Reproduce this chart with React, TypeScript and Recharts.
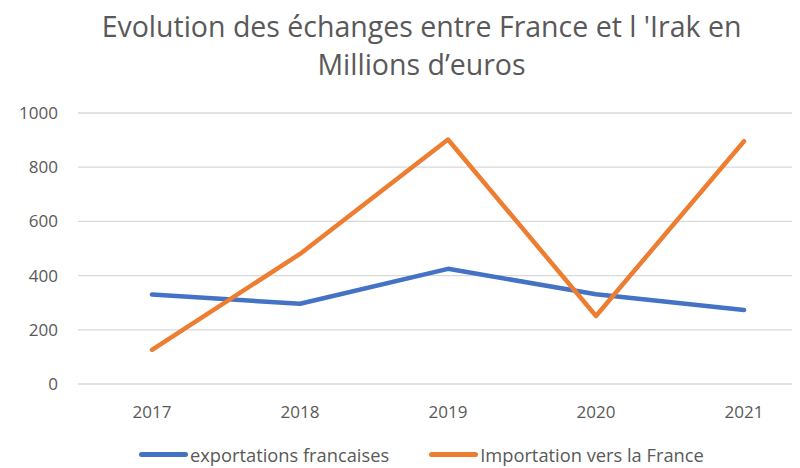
import React from "react";
import { LineChart, Line, XAxis, YAxis, CartesianGrid, Legend } from "recharts";

const years = ["2017", "2018", "2019", "2020", "2021"];
const exportations = [330, 296, 425, 331, 273];
const importations = [126, 480, 902, 251, 896];
const yTicks = [0, 200, 400, 600, 800, 1000];
const seriesNames = ["exportations francaises", "Importation vers la France"];
const seriesColors = ["#4472C4", "#ED7D31"];
const titleLines = ["Evolution des échanges entre France et l 'Irak en", "Millions d’euros"];

const data = years.map((y, i) => ({ year: y, exp: exportations[i], imp: importations[i] }));

const FONT = "'Open Sans', 'Liberation Sans', sans-serif";
const GRAY = "#595959";

const LegendContent = () => (
  <div style={{ display: "flex", alignItems: "center", fontFamily: FONT, fontSize: 18.3, color: GRAY, height: 19, lineHeight: "19px", whiteSpace: "nowrap" }}>
    {seriesNames.map((n, i) => (
      <div key={n} style={{ display: "flex", alignItems: "center", marginRight: i === 0 ? 40 : 0 }}>
        <div style={{ width: 49, height: 5, borderRadius: 3, background: seriesColors[i], marginRight: 2 }} />
        <span>{n}</span>
      </div>
    ))}
  </div>
);

export default function App() {
  return (
    <div style={{ position: "relative", width: 800, height: 468, overflow: "hidden", margin: "-8px 0 0 -8px", background: "#fff" }}>
      <div style={{ position: "absolute", left: 0, top: 7, width: 843, textAlign: "center", fontFamily: FONT, fontSize: 28.5, color: GRAY, lineHeight: "38px", whiteSpace: "nowrap" }}>
        {titleLines.map((t) => (
          <div key={t}>{t}</div>
        ))}
      </div>
      <div style={{ position: "absolute", left: 0, top: 0 }}>
        <LineChart width={830} height={468} data={data} margin={{ top: 113, right: 12, bottom: 35, left: 0 }}>
          <CartesianGrid vertical={false} stroke="#D9D9D9" strokeWidth={1.3} />
          <XAxis
            dataKey="year"
            axisLine={false}
            tickLine={false}
            height={30}
            tickMargin={16}
            padding={{ left: 74, right: 74 }}
            tick={{ fill: GRAY, fontSize: 17, fontFamily: FONT }}
          />
          <YAxis
            domain={[0, 1000]}
            ticks={yTicks}
            axisLine={false}
            tickLine={false}
            width={78}
            tickMargin={14}
            tick={{ fill: GRAY, fontSize: 17, fontFamily: FONT }}
          />
          <Legend
            verticalAlign="bottom"
            content={<LegendContent />}
            wrapperStyle={{ top: 445, left: 139, width: 640 }}
          />
          <Line
            dataKey="exp"
            name={seriesNames[0]}
            stroke={seriesColors[0]}
            strokeWidth={4.5}
            dot={false}
            strokeLinecap="round"
            strokeLinejoin="round"
            isAnimationActive={false}
          />
          <Line
            dataKey="imp"
            name={seriesNames[1]}
            stroke={seriesColors[1]}
            strokeWidth={4.5}
            dot={false}
            strokeLinecap="round"
            strokeLinejoin="round"
            isAnimationActive={false}
          />
        </LineChart>
      </div>
    </div>
  );
}
